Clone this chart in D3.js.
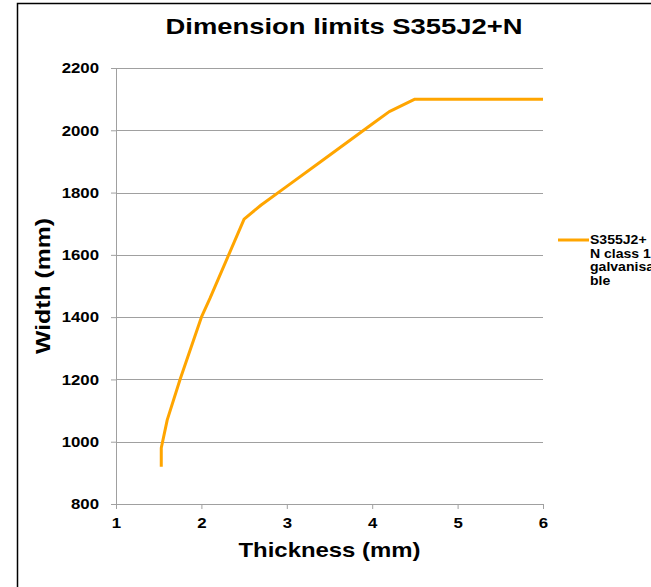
<!DOCTYPE html>
<html>
<head>
<meta charset="utf-8">
<script src="https://cdn.jsdelivr.net/npm/d3@7"></script>
<style>
    body { margin: 0; background: #fff; }
    svg text { font-family: 'Liberation Sans', Arial, sans-serif; font-weight: bold; fill: #000; }
</style>
</head>
<body>
<div id="chart"></div>
<script>
const WIDTH = 651;
const HEIGHT = 587;
const MARGIN = { top: 68, right: 108, bottom: 83, left: 116 };

// Data
const thickness = [1.53, 1.53, 1.6, 1.75, 2.0, 2.1, 2.5, 2.7, 3.0, 3.4, 4.0, 4.2, 4.5, 6.0];
const width = [920, 980, 1070, 1200, 1400, 1460, 1715, 1760, 1820, 1900, 2020, 2060, 2100, 2100];
const xTicks = [1, 2, 3, 4, 5, 6];
const yTicks = [800, 1000, 1200, 1400, 1600, 1800, 2000, 2200];
const legendLines = ['S355J2+', 'N class 1', 'galvanisa', 'ble'];

const innerW = WIDTH - MARGIN.left - MARGIN.right;
const innerH = HEIGHT - MARGIN.top - MARGIN.bottom;

// the original font is a wide bold face, so widen the glyphs a bit
function stretch(sel, factor) {
    sel.each(function () {
        const len = this.getComputedTextLength();
        d3.select(this)
            .attr('textLength', len * factor)
            .attr('lengthAdjust', 'spacingAndGlyphs');
    });
}

const svg = d3.select('#chart')
    .append('svg')
    .attr('width', WIDTH)
    .attr('height', HEIGHT);

// Outer frame
svg.append('rect')
    .attr('x', 17.5)
    .attr('y', 3.5)
    .attr('width', WIDTH)
    .attr('height', HEIGHT)
    .style('fill', 'none')
    .style('stroke', '#000')
    .style('stroke-width', 1.5);

const g = svg.append('g')
    .attr('transform', `translate(${MARGIN.left},${MARGIN.top})`);

const x = d3.scaleLinear().domain([1, 6]).range([0, innerW]);
const y = d3.scaleLinear().domain([800, 2200]).range([innerH, 0]);

// Gridlines
g.selectAll('line.grid')
    .data(yTicks.filter(d => d > 800))
    .enter()
    .append('line')
    .attr('class', 'grid')
    .attr('x1', 0)
    .attr('x2', innerW)
    .attr('y1', d => Math.round(y(d)) + 0.5)
    .attr('y2', d => Math.round(y(d)) + 0.5)
    .style('stroke', '#a0a0a0')
    .style('stroke-width', 1);

// Y axis
const yAxis = g.append('g')
    .call(d3.axisLeft(y).tickValues(yTicks).tickSize(5).tickPadding(12).tickFormat(d3.format('d')));
yAxis.selectAll('text').style('font-size', '15px');
stretch(yAxis.selectAll('text'), 1.12);
yAxis.selectAll('line, path').style('stroke', '#a0a0a0');

// X axis
const xAxis = g.append('g')
    .attr('transform', `translate(0,${innerH})`)
    .call(d3.axisBottom(x).tickValues(xTicks).tickSize(5).tickPadding(8).tickFormat(d3.format('d')));
xAxis.selectAll('text').style('font-size', '15px');
stretch(xAxis.selectAll('text'), 1.12);
xAxis.selectAll('line, path').style('stroke', '#a0a0a0');

// Line
const points = thickness.map((t, i) => ({ t: t, w: width[i] }));
g.append('path')
    .datum(points)
    .attr('d', d3.line().x(d => x(d.t)).y(d => y(d.w)))
    .style('fill', 'none')
    .style('stroke', '#FFA500')
    .style('stroke-width', 3)
    .style('stroke-linejoin', 'round');

// Title
const title = svg.append('text')
    .attr('x', 344)
    .attr('y', 34)
    .style('text-anchor', 'middle')
    .style('font-size', '22px')
    .text('Dimension limits S355J2+N');
title.attr('textLength', 357).attr('lengthAdjust', 'spacingAndGlyphs');

// Axis titles
svg.append('text')
    .attr('x', MARGIN.left + innerW / 2)
    .attr('y', 557)
    .style('text-anchor', 'middle')
    .style('font-size', '21px')
    .attr('textLength', 182)
    .attr('lengthAdjust', 'spacingAndGlyphs')
    .text('Thickness (mm)');

svg.append('text')
    .attr('transform', `translate(50,${MARGIN.top + innerH / 2}) rotate(-90)`)
    .style('text-anchor', 'middle')
    .style('font-size', '21px')
    .attr('textLength', 136)
    .attr('lengthAdjust', 'spacingAndGlyphs')
    .text('Width (mm)');

// Legend
const legend = svg.append('g').attr('transform', 'translate(558,240)');
legend.append('line')
    .attr('x1', 0).attr('x2', 31)
    .attr('y1', 0).attr('y2', 0)
    .style('stroke', '#FFA500')
    .style('stroke-width', 3);
const legendText = legend.selectAll('text')
    .data(legendLines)
    .enter()
    .append('text')
    .attr('x', 32)
    .attr('y', (d, i) => 4 + i * 13.5)
    .style('font-size', '13px')
    .text(d => d);
stretch(legendText, 1.08);
</script>
</body>
</html>
